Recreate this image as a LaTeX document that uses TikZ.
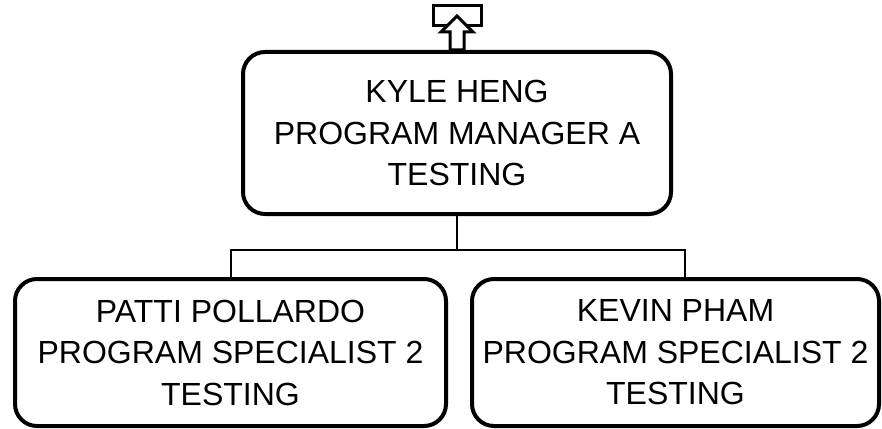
\documentclass[tikz,border=0pt]{standalone}
\usepackage{fontspec}
\setmainfont{Liberation Sans}
\usetikzlibrary{positioning,calc}

\begin{document}
\begin{tikzpicture}[x=1pt, y=-1pt,
    orgbox/.style={draw, line width=4pt, rounded corners=22pt, align=center,
      inner sep=0pt, font=\fontsize{32}{41.5}\selectfont},
    conn/.style={draw, line width=2pt},
    upicon/.style={draw, line width=3pt, fill=white, line join=miter}]
  \useasboundingbox (0,0) rectangle (882,428);

  %% Boxes
  \node[orgbox, minimum width=428pt, minimum height=162pt] (mgr) at (457,133)
    {KYLE HENG\\PROGRAM MANAGER A\\TESTING};
  \node[orgbox, minimum width=431pt, minimum height=147pt] (pat) at (230.5,352.5)
    {PATTI POLLARDO\\PROGRAM SPECIALIST 2\\TESTING};
  \node[orgbox, minimum width=407pt, minimum height=147pt] (kev) at (675.5,352.5)
    {KEVIN PHAM\\PROGRAM SPECIALIST 2\\TESTING};

  %% Connectors
  \coordinate (bus) at ($(mgr.south)+(0,34)$);
  \coordinate (kevtop) at ($(kev.north)+(9.5,0)$);
  \draw[conn] (mgr.south) -- (bus);
  \draw[conn] (pat.north) |- (bus) -| (kevtop);

  %% Up icon
  \begin{scope}[shift={(mgr.north)}]
    \draw[upicon] (-24,-44) rectangle (24,-24);
    \draw[upicon] (0,-34) -- (16,-18) -- (7,-18) -- (7,0) -- (-7,0)
      -- (-7,-18) -- (-16,-18) -- cycle;
  \end{scope}
\end{tikzpicture}
\end{document}
